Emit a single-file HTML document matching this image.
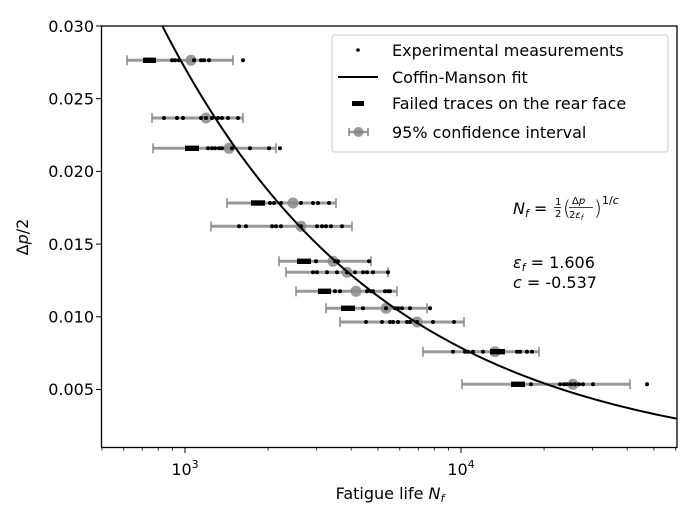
<!DOCTYPE html>
<html><head><meta charset="utf-8"><style>
html,body{margin:0;padding:0;background:#fff;}
svg{display:block;font-family:"DejaVu Sans","Liberation Sans",sans-serif;}
</style></head><body>
<svg id="s" width="689" height="508" viewBox="0 0 689 508" xmlns="http://www.w3.org/2000/svg">
<defs><clipPath id="c"><rect x="101.5" y="26" width="575.5" height="421.5"/></clipPath></defs>
<g id="data" clip-path="url(#c)"></g>
<rect x="101.5" y="26" width="575.5" height="421.5" fill="none" stroke="#000" stroke-width="1.3"/>
<g id="ticks" stroke="#000"></g>
<g font-size="16" fill="#000">
<text x="94" y="32" text-anchor="end">0.030</text>
<text x="94" y="104.5" text-anchor="end">0.025</text>
<text x="94" y="177" text-anchor="end">0.020</text>
<text x="94" y="250" text-anchor="end">0.015</text>
<text x="94" y="322.5" text-anchor="end">0.010</text>
<text x="94" y="395" text-anchor="end">0.005</text>
<text x="185" y="475" text-anchor="middle">10<tspan dy="-7" font-size="11">3</tspan></text>
<text x="461" y="475" text-anchor="middle">10<tspan dy="-7" font-size="11">4</tspan></text>
<text x="390" y="499" text-anchor="middle">Fatigue life <tspan font-style="italic">N</tspan><tspan font-style="italic" font-size="11" dy="3">f</tspan></text>
<text transform="translate(28,237) rotate(-90)" text-anchor="middle">Δ<tspan font-style="italic">p</tspan>/2</text>
</g>
<!-- legend -->
<rect x="332" y="35" width="336" height="117" rx="3" fill="#fff" fill-opacity="0.85" stroke="#ccc"/>
<g font-size="16">
<circle cx="358" cy="50" r="1.8"/>
<text x="392" y="56">Experimental measurements</text>
<line x1="338" y1="77" x2="378" y2="77" stroke="#000" stroke-width="2"/>
<text x="392" y="83">Coffin-Manson fit</text>
<rect x="352" y="101" width="12" height="5"/>
<text x="392" y="109">Failed traces on the rear face</text>
<line x1="349" y1="132" x2="368" y2="132" stroke="#808080" stroke-width="2.5" opacity="0.8"/>
<line x1="349" y1="128" x2="349" y2="136" stroke="#808080" stroke-width="1.5"/>
<line x1="368" y1="128" x2="368" y2="136" stroke="#808080" stroke-width="1.5"/>
<circle cx="358.5" cy="132" r="5" fill="#808080" opacity="0.8"/>
<text x="392" y="138">95% confidence interval</text>
</g>
<g font-size="16">
<text x="513" y="214"><tspan font-style="italic">N</tspan><tspan font-style="italic" font-size="11" dy="3">f</tspan><tspan dy="-3"> = </tspan></text>
<text x="555" y="205" font-size="10">1</text><line x1="554" y1="207.5" x2="561" y2="207.5" stroke="#000" stroke-width="0.8"/><text x="555" y="217" font-size="10">2</text>
<text x="563" y="215" font-size="20" font-weight="200">(</text>
<text x="572" y="204" font-size="10">Δ<tspan font-style="italic">p</tspan></text>
<line x1="569" y1="207.5" x2="593" y2="207.5" stroke="#000" stroke-width="0.8"/>
<text x="569" y="218" font-size="10">2<tspan font-style="italic">ε</tspan><tspan font-style="italic" font-size="7" dy="2">f</tspan></text>
<text x="594" y="215" font-size="20" font-weight="200">)</text>
<text x="602" y="204" font-size="11">1/<tspan font-style="italic">c</tspan></text>
<text x="513" y="268"><tspan font-style="italic">ε</tspan><tspan font-style="italic" font-size="11" dy="3">f</tspan><tspan dy="-3"> = 1.606</tspan></text>
<text x="513" y="288"><tspan font-style="italic">c</tspan> = -0.537</text>
</g>
</svg>
<script>
var NS="http://www.w3.org/2000/svg";
function el(t,a,p){var e=document.createElementNS(NS,t);for(var k in a)e.setAttribute(k,a[k]);(p||document.getElementById('data')).appendChild(e);return e;}
function X(n){return 185+276*(Math.log10(n)-3);}
function Y(v){return 26+(0.030-v)/0.005*72.7;}
// ticks
var tk=document.getElementById('ticks');
[0.030,0.025,0.020,0.015,0.010,0.005].forEach(function(v){var y=Y(v);el('line',{x1:96,x2:101.5,y1:y,y2:y,'stroke-width':1},tk);});
[1000,10000].forEach(function(n){var x=X(n);el('line',{x1:x,x2:x,y1:447.5,y2:453,'stroke-width':1},tk);});
[500,600,700,800,900,2000,3000,4000,5000,6000,7000,8000,9000,20000,30000,40000,50000,60000].forEach(function(n){var x=X(n);el('line',{x1:x,x2:x,y1:447.5,y2:450.5,'stroke-width':0.8},tk);});
// rows: y, errL, errR, bar[ ] , circle x, dots
var rows=[
[60.3,127,233,[143,156],191,[172,175,179,194,201,204,209,243]],
[118,152,243,null,206,[164,177,183,201,206,212,218,222,228,238]],
[148.3,153,276,[185,199],229,[208,212,215,219,222,232,250,269,280]],
[203,227,336,[251,265],293,[270,274,281,301,313,318,329]],
[226.3,211,352,null,301,[239,246,272,276,281,301,317,322,326,331,342]],
[261.3,279,371,[297,311],333,[316,335,338,369]],
[272.3,286,388,null,347,[313,317,327,337,347,355,363,367,373,388]],
[291.3,296,397,[318,331],356,[335,340,367,371,373,385,388,390]],
[308.3,326,427,[341,355],386,[363,386,395,398,402,410,430]],
[322,340,464,null,417,[366,382,390,393,398,407,410,417,433,454]],
[351.7,423,539,[490,505],495,[453,465,468,473,483,517,520,527,532]],
[384.3,462,630,[511,525],573,[531,560,564,567,571,575,579,583,593,647]]
];
rows.forEach(function(r){
 var y=r[0];
 el('line',{x1:r[1],x2:r[2],y1:y,y2:y,stroke:'#888','stroke-width':3,opacity:0.85});
 el('line',{x1:r[1],x2:r[1],y1:y-5,y2:y+5,stroke:'#888','stroke-width':1.5});
 el('line',{x1:r[2],x2:r[2],y1:y-5,y2:y+5,stroke:'#888','stroke-width':1.5});
 el('circle',{cx:r[4],cy:y,r:5.5,fill:'#888',opacity:0.85});
 if(r[3])el('rect',{x:r[3][0],y:y-2.7,width:r[3][1]-r[3][0],height:5.4,fill:'#000'});
 r[5].forEach(function(x){el('circle',{cx:x,cy:y,r:2,fill:'#000'});});
});
// curve
var d='';
for(var v=0.0310;v>0.003;v-=0.0001){var N=0.5*Math.pow(v/1.606,1/-0.537);d+=(d?'L':'M')+X(N).toFixed(2)+','+Y(v).toFixed(2);}
el('path',{d:d,fill:'none',stroke:'#000','stroke-width':2});
</script>
</body></html>
